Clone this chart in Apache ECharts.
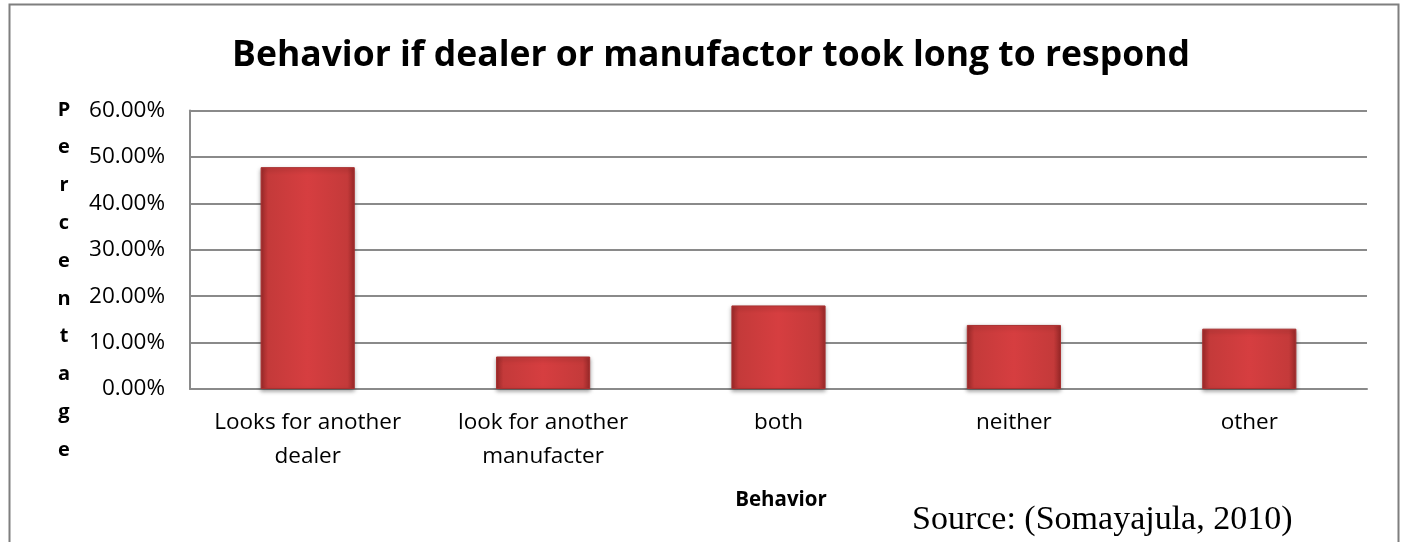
<!DOCTYPE html>
<html><head><meta charset="utf-8">
<script src="https://cdn.jsdelivr.net/npm/echarts@6/dist/echarts.min.js"></script>
<style>html,body{margin:0;padding:0;background:#fff}#c{width:1401px;height:542px}</style>
</head><body><div id="c"></div>
<script>
const categories = ['Looks for another\ndealer', 'look for another\nmanufacter', 'both', 'neither', 'other'];
const values = [0.478, 0.07, 0.18, 0.138, 0.13];
const titleText = 'Behavior if dealer or manufactor took long to respond';
const yAxisTitle = 'Percentage';
const xAxisTitle = 'Behavior';
const sourceText = 'Source: (Somayajula, 2010)';

const chart = echarts.init(document.getElementById('c'));
const barColor = new echarts.graphic.LinearGradient(0, 0, 1, 0, [
  {offset: 0, color: '#9e2a2a'},
  {offset: 0.08, color: '#c43a3a'},
  {offset: 0.5, color: '#d63e40'},
  {offset: 0.92, color: '#c43a3a'},
  {offset: 1, color: '#9e2a2a'}
]);
chart.setOption({
  animation: false,
  backgroundColor: '#fff',
  title: {
    text: titleText, left: 706, textAlign: 'center', top: 33,
    textStyle: {fontFamily: 'Open Sans', fontWeight: 'bold', fontSize: 35.5, color: '#000'}
  },
  grid: {left: 190, right: 34, top: 110.5, bottom: 153},
  xAxis: {
    type: 'category', data: categories,
    axisLine: {lineStyle: {color: '#8a8a8a', width: 2}},
    axisTick: {show: false},
    axisLabel: {interval: 0, fontFamily: 'Open Sans', fontSize: 22.5, color: '#000', lineHeight: 34, margin: 17}
  },
  yAxis: {
    type: 'value', min: 0, max: 0.6, interval: 0.1,
    axisLine: {show: true, lineStyle: {color: '#8a8a8a', width: 2}},
    axisTick: {show: false},
    splitLine: {lineStyle: {color: '#8a8a8a', width: 2}},
    axisLabel: {fontFamily: 'Open Sans', fontSize: 22.5, color: '#000', margin: 25,
      formatter: v => (v * 100).toFixed(2) + '%'}
  },
  series: [{
    type: 'bar', data: values, barWidth: '40%',
    itemStyle: {color: barColor, borderColor: '#a83030', borderWidth: 1,
      shadowColor: 'rgba(0,0,0,0.35)', shadowBlur: 4, shadowOffsetY: 2}
  }],
  graphic: [
    {type: 'rect', left: 7, top: 2, shape: {width: 1389, height: 560},
      style: {fill: 'none', stroke: '#7f7f7f', lineWidth: 2}, z: -1},
    {type: 'text', x: 64, y: 91, style: {
      text: yAxisTitle.split('').join('\n'), fontFamily: 'Open Sans', fontWeight: 'bold',
      fontSize: 20, lineHeight: 37.8, fill: '#000', align: 'center', verticalAlign: 'top'}},
    {type: 'text', x: 781, y: 500, style: {
      text: xAxisTitle, fontFamily: 'Open Sans', fontWeight: 'bold', fontSize: 20.5, fill: '#000',
      align: 'center', verticalAlign: 'middle'}},
    {type: 'text', x: 912, y: 520, style: {
      text: sourceText, fontFamily: 'Liberation Serif', fontSize: 34, fill: '#000',
      align: 'left', verticalAlign: 'middle'}}
  ]
});
</script></body></html>
